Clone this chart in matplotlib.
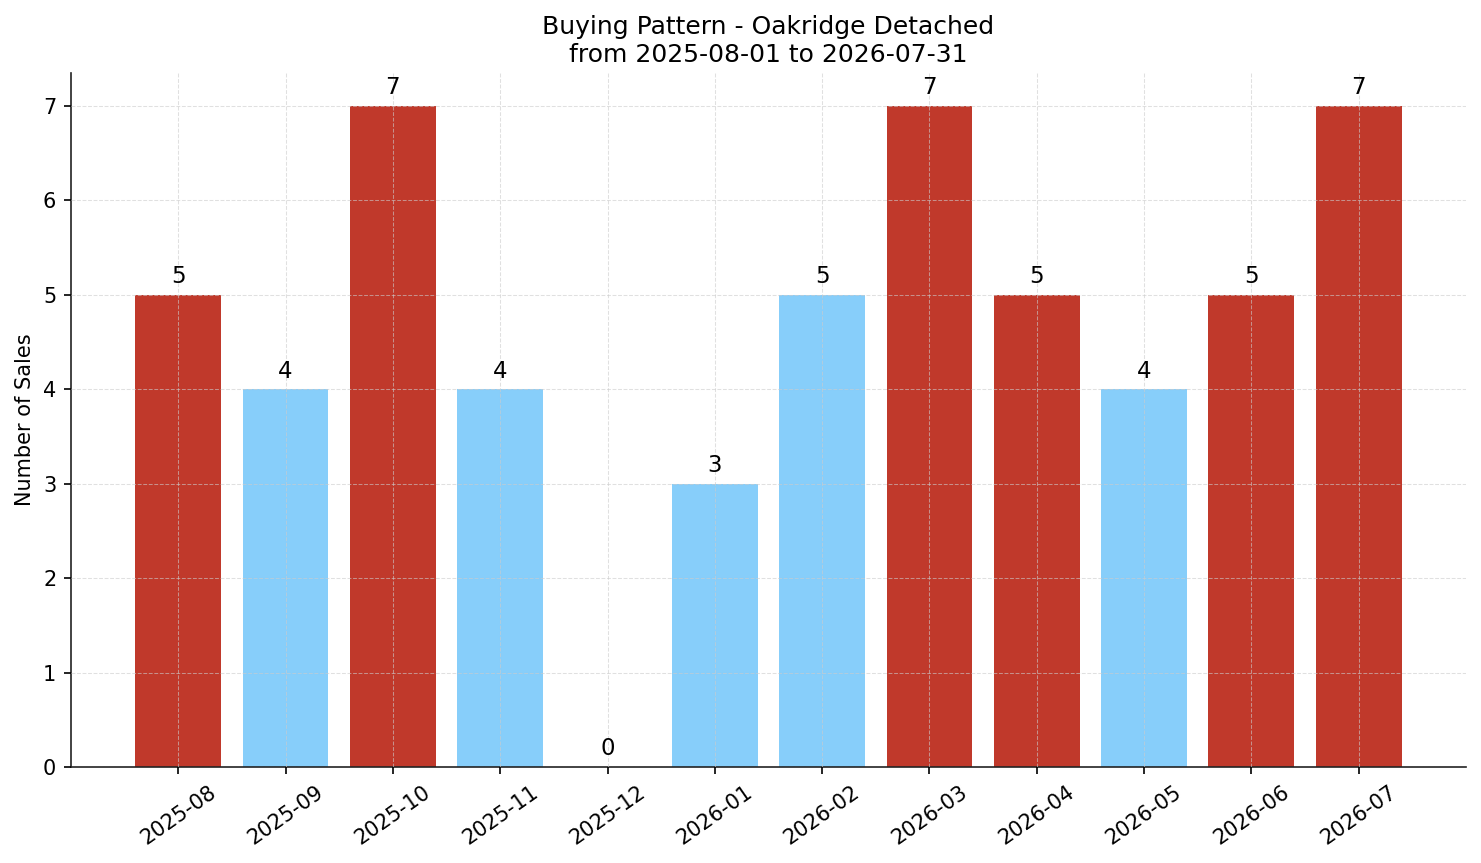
import numpy as np
import matplotlib
matplotlib.use("Agg")
import matplotlib.pyplot as plt

# monthly sales counts
months = ["2025-08", "2025-09", "2025-10", "2025-11", "2025-12", "2026-01",
          "2026-02", "2026-03", "2026-04", "2026-05", "2026-06", "2026-07"]
sales = [5, 4, 7, 4, 0, 3, 5, 7, 5, 4, 5, 7]
# months flagged as strong (red) in the source chart
strong = [True, False, True, False, False, False,
          False, True, True, False, True, True]

colors = ["#c0392b" if f else "#87cefa" for f in strong]

fig = plt.figure(figsize=(1481 / 150, 863 / 150), dpi=150)
ax = fig.add_axes([0.0479, 0.1112, 0.942, 0.8042])

x = np.arange(len(months))
bars = ax.bar(x, sales, color=colors, width=0.8, zorder=1)

for b, s in zip(bars, sales):
    ax.text(b.get_x() + b.get_width() / 2, s + 0.07, str(s),
            ha="center", va="bottom", fontsize=11)

ax.set_xticks(x)
ax.set_xticklabels(months, rotation=35, ha="center")
ax.set_xlim(-1, len(months))
ax.set_ylim(0, max(sales) * 1.05)
ax.set_ylabel("Number of Sales")
ax.set_title("Buying Pattern - Oakridge Detached\nfrom 2025-08-01 to 2026-07-31",
             fontsize=12, linespacing=1.2, pad=5.5)

ax.grid(True, linestyle="--", linewidth=0.5, color="#cccccc", alpha=0.6, zorder=2)
ax.set_axisbelow(False)
for side in ["top", "right"]:
    ax.spines[side].set_visible(False)
for side in ["left", "bottom"]:
    ax.spines[side].set_color("#222222")

fig.savefig("out.png", dpi=150)
